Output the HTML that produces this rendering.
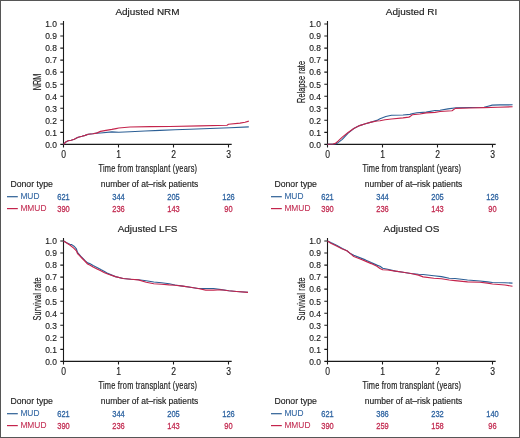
<!DOCTYPE html>
<html><head><meta charset="utf-8"><title>Adjusted outcomes</title>
<style>
html,body{margin:0;padding:0;background:#fff;}
body{width:520px;height:438px;overflow:hidden;}
svg{display:block;will-change:transform;}
text{font-family:"Liberation Sans",sans-serif;fill:#222;stroke:#222;stroke-width:0.15px;}
.yt{font-size:9.4px;text-anchor:end;}
.xt{font-size:10.2px;text-anchor:middle;}
.ti{font-size:9.3px;text-anchor:middle;}
.xl{font-size:10px;text-anchor:middle;stroke-width:0.2px;letter-spacing:0.3px;}
.yl{font-size:10px;text-anchor:middle;stroke-width:0.2px;}
.dt{font-size:8.7px;}
.lg{font-size:8.4px;stroke-width:0.05px;}
.nm{font-size:9px;text-anchor:middle;stroke-width:0.28px;}
text.b{fill:#2c62a0;stroke:#2c62a0;}
text.r{fill:#c22a50;stroke:#c22a50;}
</style></head>
<body>
<svg width="520" height="438" viewBox="0 0 520 438">
<rect x="0" y="0" width="520" height="438" fill="#fff"/>
<path d="M63.5 21.0 V147.4 M60.3 144.4 H231.7" stroke="#1a1a1a" stroke-width="1.1" fill="none"/>
<path d="M60.3 132.36H63.5M60.3 120.32H63.5M60.3 108.28H63.5M60.3 96.24H63.5M60.3 84.20H63.5M60.3 72.16H63.5M60.3 60.12H63.5M60.3 48.08H63.5M60.3 36.04H63.5M60.3 24.00H63.5M118.50 144.4V147.4M173.50 144.4V147.4M228.50 144.4V147.4" stroke="#1a1a1a" stroke-width="1.1" fill="none"/>
<text class="yt" transform="translate(56.9 147.70) scale(0.9 1)">0.0</text>
<text class="yt" transform="translate(56.9 135.66) scale(0.9 1)">0.1</text>
<text class="yt" transform="translate(56.9 123.62) scale(0.9 1)">0.2</text>
<text class="yt" transform="translate(56.9 111.58) scale(0.9 1)">0.3</text>
<text class="yt" transform="translate(56.9 99.54) scale(0.9 1)">0.4</text>
<text class="yt" transform="translate(56.9 87.50) scale(0.9 1)">0.5</text>
<text class="yt" transform="translate(56.9 75.46) scale(0.9 1)">0.6</text>
<text class="yt" transform="translate(56.9 63.42) scale(0.9 1)">0.7</text>
<text class="yt" transform="translate(56.9 51.38) scale(0.9 1)">0.8</text>
<text class="yt" transform="translate(56.9 39.34) scale(0.9 1)">0.9</text>
<text class="yt" transform="translate(56.9 27.30) scale(0.9 1)">1.0</text>
<text class="xt" transform="translate(63.50 157.6) scale(0.84 1)">0</text>
<text class="xt" transform="translate(118.50 157.6) scale(0.84 1)">1</text>
<text class="xt" transform="translate(173.50 157.6) scale(0.84 1)">2</text>
<text class="xt" transform="translate(228.50 157.6) scale(0.84 1)">3</text>
<text class="ti" transform="translate(147.5 15) scale(1.07 1)">Adjusted NRM</text>
<text class="xl" transform="translate(147.9 171.7) scale(0.74 1)">Time from transplant (years)</text>
<text class="yl" transform="translate(40.5 82) rotate(-90) scale(0.72 1)" textLength="23.06" lengthAdjust="spacing">NRM</text>
<text class="dt" x="10.4" y="187">Donor type</text>
<text class="dt" transform="translate(100.8 186.9) scale(0.975 1)">number of at–risk patients</text>
<path d="M7 196.7H17.8" stroke="#2c5f95" stroke-width="1.2"/>
<path d="M7 208.6H17.8" stroke="#c4244c" stroke-width="1.2"/>
<text class="lg b" x="20.4" y="199.1">MUD</text>
<text class="lg r" x="20.4" y="211">MMUD</text>
<text class="nm b" transform="translate(63.50 200.2) scale(0.83 1)">621</text>
<text class="nm r" transform="translate(63.50 211.8) scale(0.83 1)">390</text>
<text class="nm b" transform="translate(118.50 200.2) scale(0.83 1)">344</text>
<text class="nm r" transform="translate(118.50 211.8) scale(0.83 1)">236</text>
<text class="nm b" transform="translate(173.50 200.2) scale(0.83 1)">205</text>
<text class="nm r" transform="translate(173.50 211.8) scale(0.83 1)">143</text>
<text class="nm b" transform="translate(228.50 200.2) scale(0.83 1)">126</text>
<text class="nm r" transform="translate(228.50 211.8) scale(0.83 1)">90</text>
<polyline points="63.5,144.3 64.5,143.4 65.8,141.9 68.2,140.8 71.2,140.2 74.3,139.2 76.6,138.1 78.2,137.3 82.0,136.3 85.1,135.4 88.2,134.2 92.8,133.8 96.6,133.1 100.5,133.0 111.9,131.9 118.8,132.2 130.0,131.8 145.0,131.0 160.0,130.4 175.0,129.8 190.0,129.3 210.0,128.5 230.0,127.7 248.8,126.9" stroke="#2c5f95" stroke-width="1.15" fill="none" stroke-linejoin="round"/>
<polyline points="63.5,144.3 64.5,143.4 65.8,141.9 68.2,140.8 71.2,140.2 74.3,139.2 76.6,138.1 78.2,137.3 82.0,136.3 85.1,135.4 88.2,134.2 92.8,133.8 96.6,133.1 100.5,131.4 106.0,130.4 111.9,129.4 116.0,128.6 118.8,128.0 130.0,127.0 150.0,126.6 170.0,126.5 200.0,125.9 227.0,125.2 228.5,124.2 240.0,123.1 245.0,122.3 248.8,121.1" stroke="#c4244c" stroke-width="1.15" fill="none" stroke-linejoin="round"/>
<path d="M327.5 21.0 V147.4 M324.3 144.4 H495.7" stroke="#1a1a1a" stroke-width="1.1" fill="none"/>
<path d="M324.3 132.36H327.5M324.3 120.32H327.5M324.3 108.28H327.5M324.3 96.24H327.5M324.3 84.20H327.5M324.3 72.16H327.5M324.3 60.12H327.5M324.3 48.08H327.5M324.3 36.04H327.5M324.3 24.00H327.5M382.50 144.4V147.4M437.50 144.4V147.4M492.50 144.4V147.4" stroke="#1a1a1a" stroke-width="1.1" fill="none"/>
<text class="yt" transform="translate(320.9 147.70) scale(0.9 1)">0.0</text>
<text class="yt" transform="translate(320.9 135.66) scale(0.9 1)">0.1</text>
<text class="yt" transform="translate(320.9 123.62) scale(0.9 1)">0.2</text>
<text class="yt" transform="translate(320.9 111.58) scale(0.9 1)">0.3</text>
<text class="yt" transform="translate(320.9 99.54) scale(0.9 1)">0.4</text>
<text class="yt" transform="translate(320.9 87.50) scale(0.9 1)">0.5</text>
<text class="yt" transform="translate(320.9 75.46) scale(0.9 1)">0.6</text>
<text class="yt" transform="translate(320.9 63.42) scale(0.9 1)">0.7</text>
<text class="yt" transform="translate(320.9 51.38) scale(0.9 1)">0.8</text>
<text class="yt" transform="translate(320.9 39.34) scale(0.9 1)">0.9</text>
<text class="yt" transform="translate(320.9 27.30) scale(0.9 1)">1.0</text>
<text class="xt" transform="translate(327.50 157.6) scale(0.84 1)">0</text>
<text class="xt" transform="translate(382.50 157.6) scale(0.84 1)">1</text>
<text class="xt" transform="translate(437.50 157.6) scale(0.84 1)">2</text>
<text class="xt" transform="translate(492.50 157.6) scale(0.84 1)">3</text>
<text class="ti" transform="translate(411.5 15) scale(1.07 1)">Adjusted RI</text>
<text class="xl" transform="translate(411.9 171.7) scale(0.74 1)">Time from transplant (years)</text>
<text class="yl" transform="translate(304.5 82) rotate(-90) scale(0.72 1)" textLength="58.06" lengthAdjust="spacing">Relapse rate</text>
<text class="dt" x="274.4" y="187">Donor type</text>
<text class="dt" transform="translate(364.8 186.9) scale(0.975 1)">number of at–risk patients</text>
<path d="M271 196.7H281.8" stroke="#2c5f95" stroke-width="1.2"/>
<path d="M271 208.6H281.8" stroke="#c4244c" stroke-width="1.2"/>
<text class="lg b" x="284.4" y="199.1">MUD</text>
<text class="lg r" x="284.4" y="211">MMUD</text>
<text class="nm b" transform="translate(327.50 200.2) scale(0.83 1)">621</text>
<text class="nm r" transform="translate(327.50 211.8) scale(0.83 1)">390</text>
<text class="nm b" transform="translate(382.50 200.2) scale(0.83 1)">344</text>
<text class="nm r" transform="translate(382.50 211.8) scale(0.83 1)">236</text>
<text class="nm b" transform="translate(437.50 200.2) scale(0.83 1)">205</text>
<text class="nm r" transform="translate(437.50 211.8) scale(0.83 1)">143</text>
<text class="nm b" transform="translate(492.50 200.2) scale(0.83 1)">126</text>
<text class="nm r" transform="translate(492.50 211.8) scale(0.83 1)">90</text>
<polyline points="327.5,144.3 335.0,144.0 337.1,143.4 342.3,139.4 348.1,133.1 353.8,128.5 359.6,125.6 365.4,123.8 371.2,122.1 376.9,120.4 380.0,118.8 385.8,116.5 391.5,115.3 403.0,115.0 410.0,114.4 413.0,113.5 416.9,112.7 426.2,112.1 435.0,110.5 440.0,110.2 448.0,108.9 456.2,107.7 470.0,107.5 484.0,107.3 488.0,106.2 492.2,105.1 500.0,104.9 512.6,104.8" stroke="#2c5f95" stroke-width="1.15" fill="none" stroke-linejoin="round"/>
<polyline points="327.5,144.3 333.0,144.0 335.4,143.4 338.0,141.2 342.3,137.1 348.1,132.5 353.8,128.5 359.6,125.6 365.4,123.8 371.2,122.1 376.9,121.0 380.0,120.8 385.0,119.8 391.5,119.0 403.0,117.9 408.8,117.1 410.0,116.6 412.3,114.8 420.0,114.0 426.2,112.9 435.0,112.4 440.0,111.5 448.0,111.0 452.0,110.8 455.4,108.4 470.0,108.0 484.0,107.6 498.0,107.2 512.6,106.8" stroke="#c4244c" stroke-width="1.15" fill="none" stroke-linejoin="round"/>
<path d="M63.5 238.0 V364.4 M60.3 361.4 H231.7" stroke="#1a1a1a" stroke-width="1.1" fill="none"/>
<path d="M60.3 349.36H63.5M60.3 337.32H63.5M60.3 325.28H63.5M60.3 313.24H63.5M60.3 301.20H63.5M60.3 289.16H63.5M60.3 277.12H63.5M60.3 265.08H63.5M60.3 253.04H63.5M60.3 241.00H63.5M118.50 361.4V364.4M173.50 361.4V364.4M228.50 361.4V364.4" stroke="#1a1a1a" stroke-width="1.1" fill="none"/>
<text class="yt" transform="translate(56.9 364.70) scale(0.9 1)">0.0</text>
<text class="yt" transform="translate(56.9 352.66) scale(0.9 1)">0.1</text>
<text class="yt" transform="translate(56.9 340.62) scale(0.9 1)">0.2</text>
<text class="yt" transform="translate(56.9 328.58) scale(0.9 1)">0.3</text>
<text class="yt" transform="translate(56.9 316.54) scale(0.9 1)">0.4</text>
<text class="yt" transform="translate(56.9 304.50) scale(0.9 1)">0.5</text>
<text class="yt" transform="translate(56.9 292.46) scale(0.9 1)">0.6</text>
<text class="yt" transform="translate(56.9 280.42) scale(0.9 1)">0.7</text>
<text class="yt" transform="translate(56.9 268.38) scale(0.9 1)">0.8</text>
<text class="yt" transform="translate(56.9 256.34) scale(0.9 1)">0.9</text>
<text class="yt" transform="translate(56.9 244.30) scale(0.9 1)">1.0</text>
<text class="xt" transform="translate(63.50 374.6) scale(0.84 1)">0</text>
<text class="xt" transform="translate(118.50 374.6) scale(0.84 1)">1</text>
<text class="xt" transform="translate(173.50 374.6) scale(0.84 1)">2</text>
<text class="xt" transform="translate(228.50 374.6) scale(0.84 1)">3</text>
<text class="ti" transform="translate(147.5 232) scale(1.07 1)">Adjusted LFS</text>
<text class="xl" transform="translate(147.9 388.7) scale(0.74 1)">Time from transplant (years)</text>
<text class="yl" transform="translate(40.5 299) rotate(-90) scale(0.72 1)" textLength="59.72" lengthAdjust="spacing">Survival rate</text>
<text class="dt" x="10.4" y="404">Donor type</text>
<text class="dt" transform="translate(100.8 403.9) scale(0.975 1)">number of at–risk patients</text>
<path d="M7 413.7H17.8" stroke="#2c5f95" stroke-width="1.2"/>
<path d="M7 425.6H17.8" stroke="#c4244c" stroke-width="1.2"/>
<text class="lg b" x="20.4" y="416.1">MUD</text>
<text class="lg r" x="20.4" y="428">MMUD</text>
<text class="nm b" transform="translate(63.50 417.2) scale(0.83 1)">621</text>
<text class="nm r" transform="translate(63.50 428.8) scale(0.83 1)">390</text>
<text class="nm b" transform="translate(118.50 417.2) scale(0.83 1)">344</text>
<text class="nm r" transform="translate(118.50 428.8) scale(0.83 1)">236</text>
<text class="nm b" transform="translate(173.50 417.2) scale(0.83 1)">205</text>
<text class="nm r" transform="translate(173.50 428.8) scale(0.83 1)">143</text>
<text class="nm b" transform="translate(228.50 417.2) scale(0.83 1)">126</text>
<text class="nm r" transform="translate(228.50 428.8) scale(0.83 1)">90</text>
<polyline points="63.6,241.0 66.7,242.7 69.8,244.2 71.7,244.6 74.4,246.5 76.4,248.9 77.5,252.4 81.4,257.0 85.3,260.9 87.6,262.9 89.7,263.6 93.1,265.6 97.0,267.4 100.8,269.5 104.5,271.4 107.7,273.4 115.4,276.6 123.1,278.5 130.8,279.2 138.5,279.7 146.2,280.8 153.8,282.0 161.5,282.8 169.2,283.8 175.0,285.0 182.7,286.1 190.4,287.3 198.1,288.5 205.8,288.5 213.5,288.5 221.2,289.6 228.8,290.8 236.5,291.5 248.0,292.2" stroke="#2c5f95" stroke-width="1.15" fill="none" stroke-linejoin="round"/>
<polyline points="63.6,241.0 66.7,243.0 69.8,245.0 73.7,248.1 76.4,250.8 77.5,253.5 81.4,257.5 85.3,261.5 87.6,264.0 89.7,265.0 93.1,267.1 97.0,268.9 100.8,270.7 104.5,272.8 107.7,274.0 115.4,276.6 123.1,278.5 130.8,279.2 138.5,279.9 146.2,282.3 153.8,283.8 161.5,284.3 169.2,284.9 175.0,285.2 182.7,286.1 190.4,287.3 198.1,288.5 205.8,290.1 213.5,290.1 221.2,289.8 228.8,290.8 236.5,291.5 248.0,292.4" stroke="#c4244c" stroke-width="1.15" fill="none" stroke-linejoin="round"/>
<path d="M327.5 238.0 V364.4 M324.3 361.4 H495.7" stroke="#1a1a1a" stroke-width="1.1" fill="none"/>
<path d="M324.3 349.36H327.5M324.3 337.32H327.5M324.3 325.28H327.5M324.3 313.24H327.5M324.3 301.20H327.5M324.3 289.16H327.5M324.3 277.12H327.5M324.3 265.08H327.5M324.3 253.04H327.5M324.3 241.00H327.5M382.50 361.4V364.4M437.50 361.4V364.4M492.50 361.4V364.4" stroke="#1a1a1a" stroke-width="1.1" fill="none"/>
<text class="yt" transform="translate(320.9 364.70) scale(0.9 1)">0.0</text>
<text class="yt" transform="translate(320.9 352.66) scale(0.9 1)">0.1</text>
<text class="yt" transform="translate(320.9 340.62) scale(0.9 1)">0.2</text>
<text class="yt" transform="translate(320.9 328.58) scale(0.9 1)">0.3</text>
<text class="yt" transform="translate(320.9 316.54) scale(0.9 1)">0.4</text>
<text class="yt" transform="translate(320.9 304.50) scale(0.9 1)">0.5</text>
<text class="yt" transform="translate(320.9 292.46) scale(0.9 1)">0.6</text>
<text class="yt" transform="translate(320.9 280.42) scale(0.9 1)">0.7</text>
<text class="yt" transform="translate(320.9 268.38) scale(0.9 1)">0.8</text>
<text class="yt" transform="translate(320.9 256.34) scale(0.9 1)">0.9</text>
<text class="yt" transform="translate(320.9 244.30) scale(0.9 1)">1.0</text>
<text class="xt" transform="translate(327.50 374.6) scale(0.84 1)">0</text>
<text class="xt" transform="translate(382.50 374.6) scale(0.84 1)">1</text>
<text class="xt" transform="translate(437.50 374.6) scale(0.84 1)">2</text>
<text class="xt" transform="translate(492.50 374.6) scale(0.84 1)">3</text>
<text class="ti" transform="translate(411.5 232) scale(1.07 1)">Adjusted OS</text>
<text class="xl" transform="translate(411.9 388.7) scale(0.74 1)">Time from transplant (years)</text>
<text class="yl" transform="translate(304.5 299) rotate(-90) scale(0.72 1)" textLength="59.72" lengthAdjust="spacing">Survival rate</text>
<text class="dt" x="274.4" y="404">Donor type</text>
<text class="dt" transform="translate(364.8 403.9) scale(0.975 1)">number of at–risk patients</text>
<path d="M271 413.7H281.8" stroke="#2c5f95" stroke-width="1.2"/>
<path d="M271 425.6H281.8" stroke="#c4244c" stroke-width="1.2"/>
<text class="lg b" x="284.4" y="416.1">MUD</text>
<text class="lg r" x="284.4" y="428">MMUD</text>
<text class="nm b" transform="translate(327.50 417.2) scale(0.83 1)">621</text>
<text class="nm r" transform="translate(327.50 428.8) scale(0.83 1)">390</text>
<text class="nm b" transform="translate(382.50 417.2) scale(0.83 1)">386</text>
<text class="nm r" transform="translate(382.50 428.8) scale(0.83 1)">259</text>
<text class="nm b" transform="translate(437.50 417.2) scale(0.83 1)">232</text>
<text class="nm r" transform="translate(437.50 428.8) scale(0.83 1)">158</text>
<text class="nm b" transform="translate(492.50 417.2) scale(0.83 1)">140</text>
<text class="nm r" transform="translate(492.50 428.8) scale(0.83 1)">96</text>
<polyline points="327.5,241.0 330.8,242.6 336.5,245.2 342.3,248.4 346.9,250.7 350.4,253.6 353.8,255.3 359.6,257.6 365.4,259.9 371.2,262.6 376.9,265.1 380.0,266.2 382.7,268.2 387.7,269.2 395.4,271.1 403.1,272.3 410.8,273.5 418.5,274.2 423.1,274.5 433.8,275.7 441.5,276.6 449.2,278.2 455.0,278.5 467.5,280.0 480.0,281.0 487.5,281.9 492.5,282.5 505.0,282.8 512.5,283.1" stroke="#2c5f95" stroke-width="1.15" fill="none" stroke-linejoin="round"/>
<polyline points="327.5,241.0 330.8,243.2 336.5,246.1 342.3,249.0 346.9,250.7 350.4,253.6 353.8,256.5 359.6,258.8 365.4,261.1 371.2,263.6 376.9,266.3 380.0,268.5 382.7,269.7 387.7,270.0 395.4,271.1 403.1,272.3 410.8,273.5 418.5,275.1 423.1,276.9 433.8,278.2 441.5,278.8 449.2,280.0 455.0,280.6 467.5,281.9 480.0,282.3 487.5,283.1 492.5,284.0 505.0,285.0 512.5,286.3" stroke="#c4244c" stroke-width="1.15" fill="none" stroke-linejoin="round"/>
<rect x="0.5" y="0.5" width="519" height="437" fill="none" stroke="#565656" stroke-width="1"/>
</svg>
</body></html>
